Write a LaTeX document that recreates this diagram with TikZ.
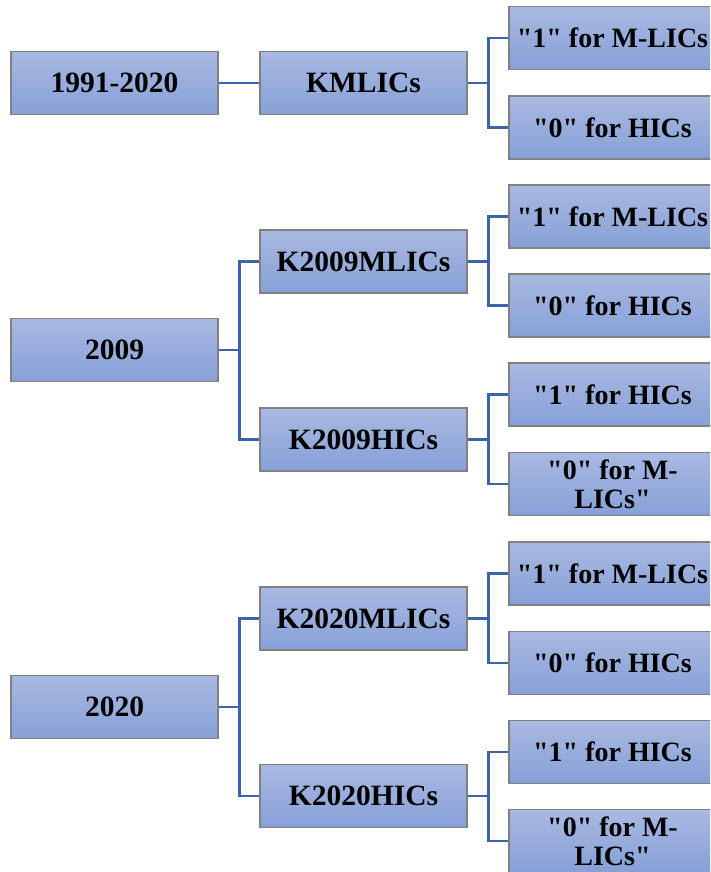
\documentclass[tikz,border=0pt]{standalone}
\usepackage{fontspec}
\setmainfont{Liberation Serif}
\newcommand{\qq}{\textquotedbl}
\tikzset{
  box/.style={draw=boxline, line width=1.2pt, top color=boxtop, bottom color=boxbot,
    minimum width=207pt, minimum height=63pt, inner sep=1pt, align=center,
    font=\fontsize{29.5}{29}\selectfont\bfseries},
  leaf/.style={box, font=\fontsize{28}{29}\selectfont\bfseries},
  link/.style={draw=linkblue, line width=2.6pt}
}
\definecolor{boxtop}{HTML}{A9B9E1}
\definecolor{boxbot}{HTML}{86A0D7}
\definecolor{boxline}{HTML}{808080}
\definecolor{linkblue}{HTML}{3D63AB}
\begin{document}
\begin{tikzpicture}[x=1pt,y=-1pt]
        \useasboundingbox (0,0) rectangle (710,872);
        \clip (0,0) rectangle (710,872);

        % First group
        \node[box] (p1) at (114.5,83) {1991-2020};
        \node[box] (k1) at (363.5,83) {KMLICs};
        \node[leaf] (k1a) at (612.5,38) {\qq1\qq{} for M-LICs};
        \node[leaf] (k1b) at (612.5,127.5) {\qq0\qq{} for HICs};

        % Second group
        \node[box] (p2) at (114.5,350) {2009};
        \node[box] (k2) at (363.5,261.5) {K2009MLICs};
        \node[box] (k3) at (363.5,439.5) {K2009HICs};
        \node[leaf] (k2a) at (612.5,216.5) {\qq1\qq{} for M-LICs};
        \node[leaf] (k2b) at (612.5,305.5) {\qq0\qq{} for HICs};
        \node[leaf] (k3a) at (612.5,394.5) {\qq1\qq{} for HICs};
        \node[leaf] (k3b) at (612.5,484) {\qq0\qq{} for M-\\LICs\qq};

        % Third group
        \node[box] (p3) at (114.5,707) {2020};
        \node[box] (k4) at (363.5,618.5) {K2020MLICs};
        \node[box] (k5) at (363.5,796) {K2020HICs};
        \node[leaf] (k4a) at (612.5,573.5) {\qq1\qq{} for M-LICs};
        \node[leaf] (k4b) at (612.5,663) {\qq0\qq{} for HICs};
        \node[leaf] (k5a) at (612.5,752) {\qq1\qq{} for HICs};
        \node[leaf] (k5b) at (612.5,841) {\qq0\qq{} for M-\\LICs\qq};

        % Connectors
        \draw[link] (p1.east) -- (k1.west);
        \draw[link] (k1.east) -- +(21,0) |- (k1a.west);
        \draw[link] (k1.east) -- +(21,0) |- (k1b.west);

        \draw[link] (p2.east) -- +(21,0) |- (k2.west);
        \draw[link] (p2.east) -- +(21,0) |- (k3.west);
        \draw[link] (k2.east) -- +(21,0) |- (k2a.west);
        \draw[link] (k2.east) -- +(21,0) |- (k2b.west);
        \draw[link] (k3.east) -- +(21,0) |- (k3a.west);
        \draw[link] (k3.east) -- +(21,0) |- (k3b.west);

        \draw[link] (p3.east) -- +(21,0) |- (k4.west);
        \draw[link] (p3.east) -- +(21,0) |- (k5.west);
        \draw[link] (k4.east) -- +(21,0) |- (k4a.west);
        \draw[link] (k4.east) -- +(21,0) |- (k4b.west);
        \draw[link] (k5.east) -- +(21,0) |- (k5a.west);
        \draw[link] (k5.east) -- +(21,0) |- (k5b.west);
    \end{tikzpicture}
\end{document}
